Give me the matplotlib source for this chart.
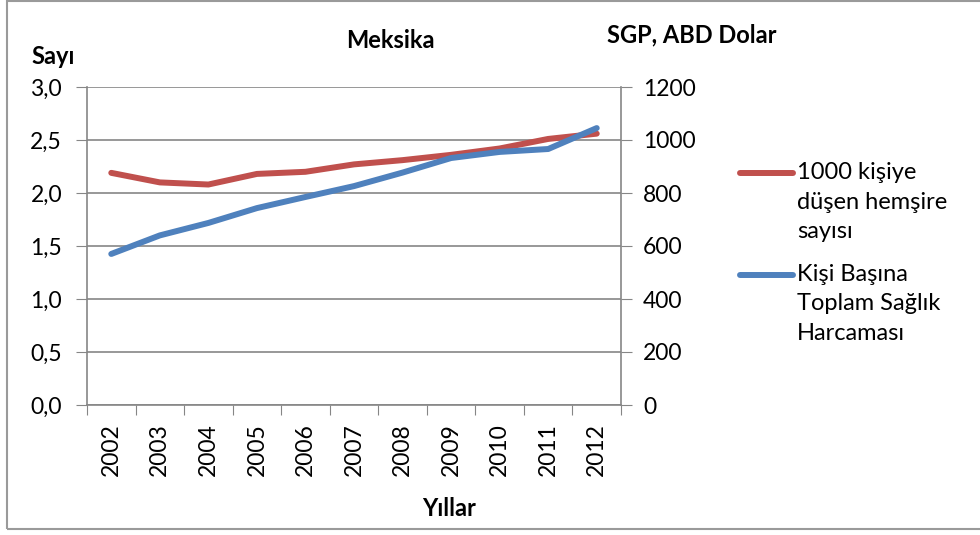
import matplotlib.pyplot as plt
from matplotlib.patches import Rectangle
from matplotlib.lines import Line2D

plt.rcParams['font.family'] = ['Lato', 'DejaVu Sans']

# Data
years = ['2002', '2003', '2004', '2005', '2006', '2007', '2008', '2009', '2010', '2011', '2012']
nurses = [2.19, 2.10, 2.08, 2.18, 2.20, 2.27, 2.31, 2.36, 2.42, 2.51, 2.56]
spending = [570, 640, 687, 743, 785, 826, 877, 932, 955, 966, 1045]
left_ticks = [0, 0.5, 1.0, 1.5, 2.0, 2.5, 3.0]
right_ticks = [0, 200, 400, 600, 800, 1000, 1200]

red = '#C0504D'
blue = '#4F81BD'
grid_c = '#868686'
tick_fs = 16.5
title_fs = 17

fig = plt.figure(figsize=(9.8, 5.35), dpi=100)
W, H = 980, 535
ax = fig.add_axes([87 / W, 1 - 405 / H, (621 - 87) / W, (405 - 87) / H])
ax2 = ax.twinx()

x = list(range(len(years)))
ax.plot(x, nurses, color=red, lw=4.3, solid_capstyle='round', zorder=3)
ax2.plot(x, spending, color=blue, lw=4.3, solid_capstyle='round', zorder=3)

ax.set_xlim(-0.5, len(years) - 0.5)
ax.set_ylim(0, 3.0)
ax2.set_ylim(0, 1200)
ax.set_yticks(left_ticks)
ax.set_yticklabels([f'{v:.1f}'.replace('.', ',') for v in left_ticks], fontsize=tick_fs)
ax2.set_yticks(right_ticks)
ax2.set_yticklabels([str(v) for v in right_ticks], fontsize=tick_fs)
ax.set_xticks([i - 0.5 for i in range(len(years) + 1)])
ax.set_xticklabels([])
ax.set_xticks(x, minor=True)
ax.set_xticklabels(years, minor=True, rotation=90, fontsize=tick_fs)
ax.tick_params(axis='x', which='minor', length=0, pad=13)
ax.tick_params(axis='x', which='major', length=7, color=grid_c, direction='out')
ax.tick_params(axis='y', length=8, color=grid_c, pad=10)
ax2.tick_params(axis='y', length=8, color=grid_c, pad=8)

ax.grid(axis='y', color=grid_c, lw=1.2)
ax.set_axisbelow(True)
for a in (ax, ax2):
    a.spines['top'].set_visible(False)
    for s in ('left', 'right', 'bottom'):
        a.spines[s].set_color(grid_c)
        a.spines[s].set_linewidth(1.2)
ax.spines['right'].set_visible(False)
ax2.spines['left'].set_visible(False)
ax2.spines['bottom'].set_visible(False)

# Titles
fig.text(390 / W, 1 - 40 / H, 'Meksika', ha='center', va='center', fontsize=title_fs, fontweight='bold')
fig.text(31 / W, 1 - 57 / H, 'Sayı', ha='left', va='center', fontsize=title_fs, fontweight='bold')
fig.text(607 / W, 1 - 35 / H, 'SGP, ABD Dolar', ha='left', va='center', fontsize=title_fs, fontweight='bold')
fig.text(449 / W, 1 - 509 / H, 'Yıllar', ha='center', va='center', fontsize=title_fs, fontweight='bold')

# Legend drawn by hand to match the wrapped labels
for y0, col, label in [(173, red, '1000 kişiye\ndüşen hemşire\nsayısı'),
                       (275, blue, 'Kişi Başına\nToplam Sağlık\nHarcaması')]:
    fig.add_artist(Line2D([740 / W, 793 / W], [1 - y0 / H, 1 - y0 / H], color=col, lw=4.3,
                          solid_capstyle='round', transform=fig.transFigure))
    fig.text(797 / W, 1 - (y0 - 11) / H, label, ha='left', va='top', fontsize=17,
             linespacing=1.5)

# Outer chart border
fig.add_artist(Rectangle((7 / W, 1 - 529 / H), 1.0, 529 / H - 0.001, transform=fig.transFigure,
                         fill=False, edgecolor='#9a9a9a', lw=1.5))

fig.savefig('out.png', dpi=100)
